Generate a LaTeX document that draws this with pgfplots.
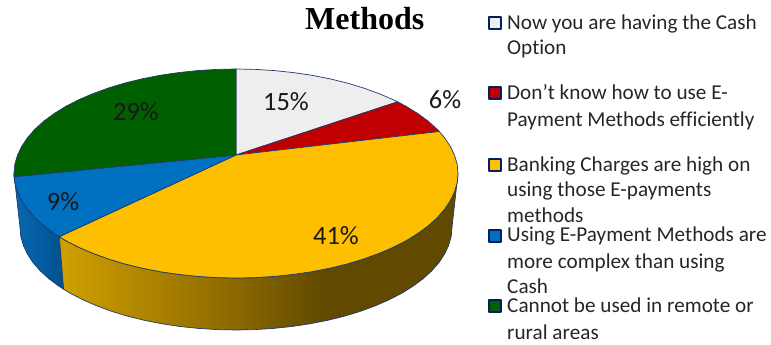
\documentclass[border=0pt]{standalone}
\usepackage{fontspec}
\setmainfont{Carlito}[Ligatures=NoCommon]
\newfontfamily\titlefont{Liberation Serif}
\usepackage{pgfplots}
\pgfplotsset{compat=1.18}
\definecolor{edge}{HTML}{1F3A6E}
\definecolor{frame}{HTML}{002060}
\definecolor{cWhite}{HTML}{EEEEEE}
\definecolor{cRed}{HTML}{C00000}
\definecolor{cGold}{HTML}{FDBF00}
\definecolor{cBlue}{HTML}{0070C0}
\definecolor{cGreen}{HTML}{006000}
\definecolor{goldA}{HTML}{D0A000}
\definecolor{goldB}{HTML}{8F6B00}
\definecolor{goldC}{HTML}{614A00}
\definecolor{blueA}{HTML}{0768B0}
\definecolor{blueB}{HTML}{00528F}
% Rim shadings: the middle 50bp span the filled path from left to right
\pgfdeclarehorizontalshading{goldrim}{100bp}{
  color(0bp)=(goldA);
  color(25bp)=(goldA);
  color(46bp)=(goldB);
  color(58bp)=(goldC);
  color(100bp)=(goldC)}
\pgfdeclarehorizontalshading{bluerim}{100bp}{
  color(0bp)=(blueA);
  color(25bp)=(blueA);
  color(75bp)=(blueB);
  color(100bp)=(blueB)}
\newcommand{\pct}[2]{\node[font=\fontsize{26.4}{26.4}\selectfont, text=black!90] at (axis cs:#1) {#2};}
\newcommand{\leg}[2]{\node[anchor=base west, inner sep=0pt, font=\fontsize{21.2}{21.2}\selectfont, text=black!85] at (axis cs:507,#1) {#2};}
\begin{document}
\begin{tikzpicture}
\path[use as bounding box] (0,0) rectangle (771pt,345pt);
\begin{axis}[
  at={(0,0)}, anchor=south west,
  scale only axis, width=771pt, height=345pt,
  xmin=0, xmax=771, ymin=0, ymax=345, y dir=reverse,
  hide axis, clip=false,
  every axis plot/.append style={line width=0.7pt, line join=round, mark=none},
]
% Rim of the pie: blue share
\addplot[shading=bluerim, draw=edge] coordinates {
  (14,173.5) (14.1,176.7) (14.8,182.6) (17.4,191.6) (21.6,200.5) (27.4,209.2)
  (34.8,217.7) (43.7,225.75) (54.1,233.4) (59.3,236.7)
  (63.6,289.2) (59.1,286.3) (48.9,278.75) (40.2,270.8) (33,262.6) (27.4,254)
  (23.3,245.3) (20.8,236.4) (20,227.5)} -- cycle;
% Rim of the pie: gold share
\addplot[shading=goldrim, draw=edge] coordinates {
  (59.3,236.7) (65.9,240.7) (79,247.4) (93.3,253.5) (108.7,259.1) (125,264)
  (142.2,268.2) (160.1,271.7) (178.5,274.4) (197.5,276.4) (216.6,277.6) (236,278)
  (255.4,277.6) (274.5,276.4) (293.5,274.4) (311.9,271.7) (329.8,268.2) (347,264)
  (363.3,259.1) (378.7,253.5) (393,247.4) (406.1,240.7) (417.9,233.4) (428.3,225.75)
  (437.2,217.7) (444.6,209.2) (450.4,200.5) (454.6,191.6) (457.2,182.6) (458,173.5)
  (452,227.5) (451.2,236.4) (448.7,245.3) (444.6,254) (439,262.6) (431.8,270.8)
  (423.1,278.75) (412.9,286.3) (401.5,293.4) (388.7,300) (374.8,306) (359.9,311.5)
  (344,316.3) (327.3,320.4) (309.9,323.8) (291.9,326.5) (273.5,328.4) (254.8,329.6)
  (236,330) (217.2,329.6) (198.5,328.4) (180.1,326.5) (162.1,323.8) (144.7,320.4)
  (128,316.3) (112.1,311.5) (97.2,306) (83.3,300) (70.5,293.4) (63.6,289.2)} -- cycle;
% Top face, one wedge per answer
\addplot[fill=cWhite, draw=edge] coordinates {
  (236,155) (236,69) (255.4,69.4) (274.5,70.6) (293.5,72.6) (311.9,75.3) (329.8,78.8)
  (347,83) (363.3,87.9) (378.7,93.5) (393,99.6) (397.6,101.8)} -- cycle;
\addplot[fill=cRed, draw=edge] coordinates {
  (236,155) (397.6,101.8) (406.1,106.3) (417.9,113.6) (428.3,121.25) (437.2,129.3)
  (439.3,131.5)} -- cycle;
\addplot[fill=cGold, draw=edge] coordinates {
  (236,155) (439.3,131.5) (444.6,137.8) (450.4,146.5) (454.6,155.4) (457.2,164.4)
  (458,173.5) (457.2,182.6) (454.6,191.6) (450.4,200.5) (444.6,209.2) (437.2,217.7)
  (428.3,225.75) (417.9,233.4) (406.1,240.7) (393,247.4) (378.7,253.5) (363.3,259.1)
  (347,264) (329.8,268.2) (311.9,271.7) (293.5,274.4) (274.5,276.4) (255.4,277.6)
  (236,278) (216.6,277.6) (197.5,276.4) (178.5,274.4) (160.1,271.7) (142.2,268.2)
  (125,264) (108.7,259.1) (93.3,253.5) (79,247.4) (65.9,240.7) (59.3,236.7)} -- cycle;
\addplot[fill=cBlue, draw=edge] coordinates {
  (236,155) (59.3,236.7) (54.1,233.4) (43.7,225.75) (34.8,217.7) (27.4,209.2)
  (21.6,200.5) (17.4,191.6) (14.8,182.6) (14.1,176.7)} -- cycle;
\addplot[fill=cGreen, draw=edge] coordinates {
  (236,155) (14.1,176.7) (14,173.5) (14.8,164.4) (17.4,155.4) (21.6,146.5) (27.4,137.8)
  (34.8,129.3) (43.7,121.25) (54.1,113.6) (65.9,106.3) (79,99.6) (93.3,93.5) (108.7,87.9)
  (125,83) (142.2,78.8) (160.1,75.3) (178.5,72.6) (197.5,70.6) (216.6,69.4) (236,69)} -- cycle;
% Legend swatches
\addplot[only marks, mark=square*, mark size=6.1pt, mark options={fill=cWhite, draw=frame, line width=1.8pt}] coordinates {(495,23.3)};
\addplot[only marks, mark=square*, mark size=6.1pt, mark options={fill=cRed, draw=frame, line width=1.8pt}] coordinates {(495,93)};
\addplot[only marks, mark=square*, mark size=6.1pt, mark options={fill=cGold, draw=frame, line width=1.8pt}] coordinates {(495,165)};
\addplot[only marks, mark=square*, mark size=6.1pt, mark options={fill=cBlue, draw=frame, line width=1.8pt}] coordinates {(495,235.7)};
\addplot[only marks, mark=square*, mark size=6.1pt, mark options={fill=cGreen, draw=frame, line width=1.8pt}] coordinates {(495,306)};
% Share labels
\pct{286,101.7}{15\%}
\pct{445,100}{6\%}
\pct{336,235.7}{41\%}
\pct{136,112}{29\%}
\pct{63,202}{9\%}
% Heading and legend text
\node[anchor=base west, inner sep=0pt, font=\titlefont\bfseries\fontsize{32}{32}\selectfont] at (axis cs:305,30) {Methods};
\leg{29.3}{Now you are having the Cash}
\leg{55}{Option}
\leg{99.3}{Don’t know how to use E-}
\leg{126}{Payment Methods efficiently}
\leg{171}{Banking Charges are high on}
\leg{196}{using those E-payments}
\leg{222.7}{methods}
\leg{241}{Using E-Payment Methods are}
\leg{268}{more complex than using}
\leg{293}{Cash}
\leg{312}{Cannot be used in remote or}
\leg{339}{rural areas}
\end{axis}
\end{tikzpicture}
\end{document}
